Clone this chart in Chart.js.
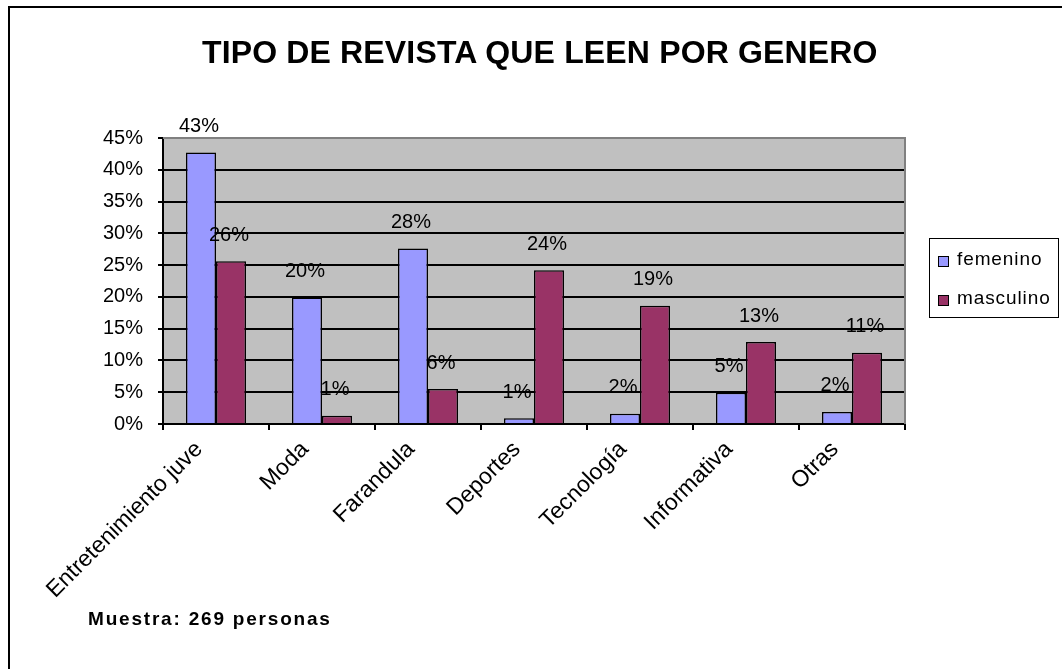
<!DOCTYPE html>
<html>
<head>
<meta charset="utf-8">
<script src="https://cdn.jsdelivr.net/npm/chart.js"></script>
<style>
    body { margin: 0; background: #fff; overflow: hidden; font-family: "Liberation Sans", Arial, sans-serif; }
    #marco { position: absolute; left: 8px; top: 6px; width: 1100px; height: 700px; border: 2px solid #000; }
    #titulo { position: absolute; left: 202px; top: 33px; font-size: 32px; line-height: 38px; font-weight: bold; letter-spacing: 0.15px; white-space: nowrap; }
    #muestra { position: absolute; left: 88px; top: 609px; font-size: 19px; line-height: 20px; font-weight: bold; letter-spacing: 1.8px; white-space: nowrap; }
    #leyenda { position: absolute; left: 929px; top: 238px; width: 130px; height: 80px; border: 1.5px solid #000; box-sizing: border-box; }
    .item { position: absolute; left: 0; font-size: 19px; line-height: 20px; letter-spacing: 0.9px; white-space: nowrap; }
    .cuadro { position: absolute; width: 11px; height: 11px; border: 1.5px solid #000; box-sizing: border-box; }
    canvas { position: absolute; left: 0; top: 0; }
</style>
</head>
<body>
<div id="marco"></div>
<canvas id="chart" width="1062" height="669"></canvas>
<div id="titulo">TIPO DE REVISTA QUE LEEN POR GENERO</div>
<div id="leyenda"></div>
<div id="muestra">Muestra: 269 personas</div>
<script>
const categorias = ['Entretenimiento juve', 'Moda', 'Farandula', 'Deportes', 'Tecnología', 'Informativa', 'Otras'];
const femenino = [42.7, 19.9, 27.6, 0.9, 1.6, 4.9, 1.9];
const masculino = [25.6, 1.3, 5.5, 24.2, 18.6, 12.9, 11.2];
const series = ['femenino', 'masculino'];
const colores = ['#9999FF', '#993366'];

// leyenda con borde, como en el original
const leyenda = document.getElementById('leyenda');
series.forEach((nombre, i) => {
    const cuadro = document.createElement('div');
    cuadro.className = 'cuadro';
    cuadro.style.left = '8px';
    cuadro.style.top = (17 + i * 39) + 'px';
    cuadro.style.background = colores[i];
    leyenda.appendChild(cuadro);
    const item = document.createElement('div');
    item.className = 'item';
    item.style.left = '27px';
    item.style.top = (10 + i * 39) + 'px';
    item.textContent = nombre;
    leyenda.appendChild(item);
});

const fondoPlot = {
    id: 'fondoPlot',
    beforeDraw(chart) {
        const a = chart.chartArea;
        const ctx = chart.ctx;
        ctx.save();
        ctx.fillStyle = '#C0C0C0';
        ctx.fillRect(a.left, a.top, a.right - a.left, a.bottom - a.top);
        ctx.restore();
    },
    afterDraw(chart) {
        const a = chart.chartArea;
        const ctx = chart.ctx;
        ctx.save();
        ctx.strokeStyle = '#808080';
        ctx.lineWidth = 2;
        ctx.beginPath();
        ctx.moveTo(a.left, a.top);
        ctx.lineTo(a.right, a.top);
        ctx.lineTo(a.right, a.bottom);
        ctx.stroke();
        ctx.restore();
    }
};

const etiquetas = {
    id: 'etiquetas',
    afterDatasetsDraw(chart) {
        const ctx = chart.ctx;
        ctx.save();
        ctx.font = '20px "Liberation Sans", Arial, sans-serif';
        ctx.fillStyle = '#000';
        ctx.textAlign = 'center';
        ctx.textBaseline = 'middle';
        chart.data.datasets.forEach((ds, i) => {
            chart.getDatasetMeta(i).data.forEach((bar, j) => {
                ctx.fillText(Math.round(ds.data[j]) + '%', bar.x - 2, bar.y - 26);
            });
        });
        ctx.restore();
    }
};

new Chart('chart', {
    type: 'bar',
    data: {
        labels: categorias,
        datasets: [{
            label: series[0],
            data: femenino,
            backgroundColor: colores[0],
            borderColor: '#000',
            borderWidth: 1.5,
            barPercentage: 1,
            categoryPercentage: 0.566
        }, {
            label: series[1],
            data: masculino,
            backgroundColor: colores[1],
            borderColor: '#000',
            borderWidth: 1.5,
            barPercentage: 1,
            categoryPercentage: 0.566
        }]
    },
    options: {
        responsive: false,
        animation: false,
        layout: { padding: { left: 0, top: 138, right: 157, bottom: 0 } },
        plugins: {
            legend: { display: false },
            tooltip: { enabled: false }
        },
        scales: {
            x: {
                afterFit: (scale) => { scale.height = 245; },
                grid: { offset: true, drawOnChartArea: false, tickLength: 6, color: '#000', lineWidth: 2 },
                border: { color: '#000', width: 2 },
                ticks: {
                    maxRotation: 45,
                    minRotation: 45,
                    autoSkip: false,
                    labelOffset: -17,
                    padding: 6,
                    color: '#000',
                    font: { family: '"Liberation Sans", Arial, sans-serif', size: 23 }
                }
            },
            y: {
                min: 0,
                max: 45,
                afterFit: (scale) => { scale.width = 163; },
                grid: {
                    color: (c) => c.tick && c.tick.value === 45 ? 'rgba(0,0,0,0)' : '#000',
                    lineWidth: 2,
                    tickLength: 5,
                    tickColor: '#000'
                },
                border: { color: '#000', width: 2 },
                ticks: {
                    stepSize: 5,
                    padding: 15,
                    color: '#000',
                    font: { family: '"Liberation Sans", Arial, sans-serif', size: 20 },
                    callback: (v) => v + '%'
                }
            }
        }
    },
    plugins: [fondoPlot, etiquetas]
});
</script>
</body>
</html>
